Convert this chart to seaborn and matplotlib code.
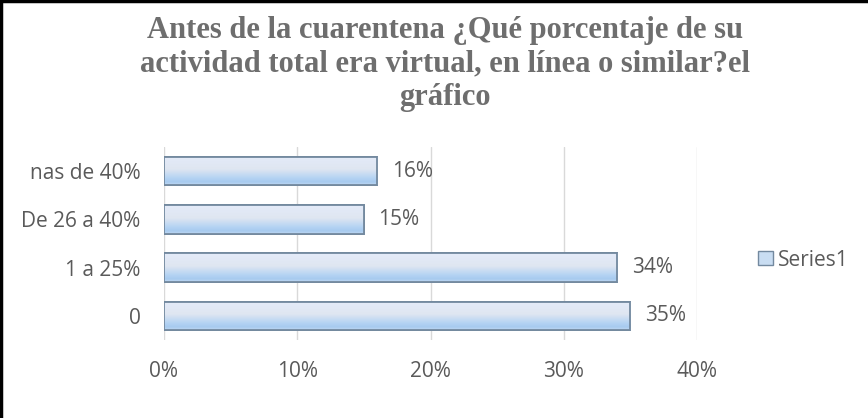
import numpy as np
import pandas as pd
import matplotlib
matplotlib.use("Agg")
import matplotlib.pyplot as plt
from matplotlib.colors import LinearSegmentedColormap
from matplotlib.patches import Patch
import seaborn as sns

# Survey answers and their shares (percent)
categories = ["nas de 40%", "De 26 a 40%", "1 a 25%", "0"]
values = [16, 15, 34, 35]
x_ticks = [0, 10, 20, 30, 40]
x_tick_labels = ["0%", "10%", "20%", "30%", "40%"]
series_name = "Series1"
title = "Antes de la cuarentena ¿Qué porcentaje de su\nactividad total era virtual, en línea o similar?el\ngráfico"

df = pd.DataFrame({"categoria": categories, "valor": values})

sns.set_theme(style="white")
plt.rcParams["font.family"] = ["Open Sans", "DejaVu Sans"]

TXT = "#5a5a5a"
EDGE = "#73899f"
FS = 15

fig = plt.figure(figsize=(8.68, 4.18), dpi=100)
ax = fig.add_axes([164 / 868, 1 - 340 / 418, (697 - 164) / 868, (340 - 147) / 418])

sns.barplot(data=df, x="valor", y="categoria", order=categories, orient="h",
            color="#c9ddf2", edgecolor=EDGE, linewidth=1.3, width=0.59, ax=ax)

# vertical gradient inside each bar: pale lavender at the top, blue near the bottom
grad_cmap = LinearSegmentedColormap.from_list(
    "bar", [(0.0, "#e4ebf9"), (0.45, "#dfe6f1"), (0.75, "#b6d4f3"),
            (0.9, "#a7caef"), (1.0, "#bfd8f1")])
grad = np.linspace(0, 1, 64).reshape(-1, 1)
for bar in list(ax.patches):
    x0, y0 = bar.get_x(), bar.get_y()
    w, h = bar.get_width(), bar.get_height()
    im = ax.imshow(grad, cmap=grad_cmap, aspect="auto", origin="upper",
                   extent=(x0, x0 + w, y0 + h, y0), zorder=bar.get_zorder() + 0.1,
                   interpolation="bilinear")
    im.set_clip_path(bar)
    edge = plt.Rectangle((x0, y0), w, h, fill=False, edgecolor=EDGE,
                         linewidth=1.3, zorder=bar.get_zorder() + 0.2)
    ax.add_patch(edge)

# value labels
for i, v in enumerate(values):
    ax.text(v + 1.1, i, f"{v}%", va="center", ha="left",
            fontsize=FS, color=TXT)

ax.set_xlim(0, 40)
ax.set_ylim(3.5, -0.5)
ax.set_xticks(x_ticks)
ax.set_xticklabels(x_tick_labels)
ax.set_xlabel("")
ax.set_ylabel("")
ax.grid(axis="x", color="#d9d9d9", linewidth=1)
ax.grid(axis="y", visible=False)
ax.set_axisbelow(True)
for s in ax.spines.values():
    s.set_visible(False)
ax.tick_params(axis="both", length=0, labelsize=FS, labelcolor=TXT)
ax.tick_params(axis="x", pad=15)
ax.tick_params(axis="y", pad=17)

# legend
handle = Patch(facecolor="#c9ddf2", edgecolor=EDGE, linewidth=1.0)
fig.legend([handle], [series_name], loc="center left",
           bbox_to_anchor=(748 / 868, 1 - 260 / 418), frameon=False,
           fontsize=FS, labelcolor=TXT, handlelength=0.68, handleheight=0.68,
           handletextpad=0.25, borderpad=0)

fig.text(0.5 * (143 + 747) / 868, 1 - 16 / 418, title, ha="center", va="top",
         fontsize=22, fontweight="bold", color="#6e6e6e",
         family=["Liberation Serif", "DejaVu Serif"], linespacing=1.2)

# outer frame lines on the left and top
fig.add_artist(plt.Line2D([0.0015, 0.0015], [0, 1], color="black", linewidth=2.5,
                          transform=fig.transFigure))
fig.add_artist(plt.Line2D([0, 1], [0.998, 0.998], color="black", linewidth=2.5,
                          transform=fig.transFigure))

fig.savefig("out.png", dpi=100)
